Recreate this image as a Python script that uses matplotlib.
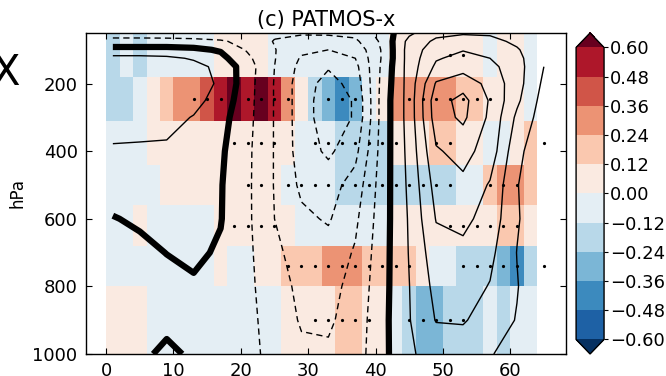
import numpy as np
import matplotlib
matplotlib.use("Agg")
import matplotlib.pyplot as plt
from matplotlib.colors import BoundaryNorm

plt.rcParams["font.family"] = ["DejaVu Sans"]
plt.rcParams["lines.dashed_pattern"] = [4.5, 3.0]

# --- shaded anomaly field: 33 latitude bins (2 deg wide) x 7 pressure layers ---
lat_edges = np.arange(0, 68, 2)
p_edges = [50, 180, 310, 440, 560, 680, 800, 1000]
nan = np.nan
anom_115 = [-0.18, -0.06, -0.18, -0.06, -0.06, -0.06, -0.06, -0.06, 0.06, 0.06, 0.06,
            0.06, -0.06, -0.06, -0.06, -0.06, -0.06, -0.06, -0.06, -0.06, -0.06, 0.06,
            0.06, 0.06, 0.06, 0.06, 0.06, 0.06, -0.06, 0.06, 0.06, -0.06, nan]
anom_245 = [-0.18, -0.18, -0.06, 0.06, 0.18, 0.30, 0.30, 0.42, 0.54, 0.66, 0.54,
            0.66, 0.54, 0.30, 0.06, -0.18, -0.30, -0.42, -0.30, -0.06, 0.06, 0.30,
            0.30, 0.30, 0.30, 0.30, 0.18, 0.18, 0.06, 0.06, 0.06, -0.06, nan]
anom_375 = [-0.06, -0.06, -0.06, 0.06, 0.06, 0.06, 0.06, 0.06, 0.06, 0.06, 0.06,
            0.06, 0.06, 0.06, -0.06, -0.06, -0.06, -0.18, -0.18, -0.18, -0.18, 0.06,
            0.06, 0.06, 0.18, 0.18, 0.06, 0.06, -0.06, -0.06, 0.06, 0.18, nan]
anom_500 = [-0.06, -0.06, -0.06, -0.06, 0.06, 0.06, 0.06, 0.06, 0.06, 0.06, 0.06,
            0.06, 0.06, -0.06, -0.06, -0.06, -0.06, -0.18, -0.18, -0.18, -0.18, -0.18,
            -0.18, -0.18, -0.18, -0.18, -0.06, -0.06, 0.18, 0.30, 0.30, 0.18, nan]
anom_620 = [-0.06, -0.06, 0.06, -0.06, -0.06, -0.06, -0.06, -0.06, 0.06, 0.06, 0.06,
            0.06, 0.06, 0.06, -0.06, -0.06, -0.06, -0.06, -0.06, -0.06, -0.06, 0.06,
            0.06, 0.06, 0.06, 0.06, 0.06, 0.06, 0.06, 0.18, 0.18, 0.06, nan]
anom_740 = [-0.06, -0.06, -0.06, -0.06, -0.06, -0.06, -0.06, -0.06, 0.06, -0.06, -0.06,
            0.06, 0.06, 0.18, 0.18, 0.18, 0.30, 0.30, 0.30, 0.18, 0.18, 0.18,
            0.18, 0.06, -0.06, -0.06, -0.18, -0.18, -0.18, -0.30, -0.42, -0.18, nan]
anom_900 = [0.06, 0.06, 0.06, -0.06, -0.06, -0.06, -0.06, -0.06, -0.06, -0.06, -0.06,
            -0.06, -0.06, 0.06, 0.06, 0.06, 0.06, 0.18, 0.18, 0.06, 0.06, -0.06,
            -0.18, -0.30, -0.30, -0.18, -0.18, -0.18, -0.06, -0.18, -0.06, -0.06, nan]
anom = np.array([anom_115, anom_245, anom_375, anom_500, anom_620, anom_740, anom_900])

# --- stippled (significant) cells: latitude centres per pressure layer ---
sig_p = [115, 245, 375, 500, 620, 740, 900]
sig_lat = [
    [51, 53],
    [13, 15, 17, 21, 23, 25, 27, 33, 35, 37, 45, 47, 49, 51, 53, 55, 57],
    [19, 21, 23, 25, 31, 33, 35, 37, 39, 41, 43, 49, 51, 65],
    [21, 23, 27, 29, 31, 33, 35, 37, 39, 41, 43, 45, 47, 49, 51, 57, 59, 61],
    [19, 21, 23, 25, 51, 53, 55, 57, 59, 61],
    [27, 29, 31, 33, 35, 37, 39, 41, 43, 45, 53, 55, 57, 59, 61, 65],
    [31, 33, 35, 37, 39, 45, 47, 49, 51, 53],
]

# --- climatological circulation (contoured) ---
circ_lat = np.arange(1, 66, 4)
circ_p = [50, 75, 100, 125, 150, 200, 250, 300, 400, 500, 600, 700, 800, 900, 1000]
circ = np.array([
    [-1.6, -1.6, -1.65, -1.75, -1.85, -1.9, -1.85, -1.9, -1.85, -1.7, -0.6, 0.8, 1.7, 1.9, 1.85, 1.5, 1.2],
    [-0.6, -0.6, -0.6, -0.65, -0.85, -1.4, -2.05, -2.3, -2.4, -2.2, -0.8, 1.3, 2.2, 2.4, 2.3, 1.8, 1.3],
    [0.3, 0.3, 0.3, 0.2, -0.1, -1.1, -1.95, -2.8, -3.0, -2.7, -0.9, 1.4, 2.6, 2.95, 2.7, 2.1, 1.2],
    [1.3, 1.3, 1.2, 0.9, 0.3, -0.8, -1.95, -3.1, -3.5, -3.0, -0.9, 1.4, 2.9, 3.3, 3.0, 2.3, 1.1],
    [1.5, 1.6, 1.5, 1.3, 0.75, -0.55, -2.0, -3.3, -3.9, -3.3, -0.8, 1.4, 3.2, 3.6, 3.3, 2.4, 1.0],
    [1.6, 1.7, 1.65, 1.45, 0.85, -0.6, -2.05, -3.5, -4.4, -3.6, -0.7, 1.4, 4.1, 4.6, 3.7, 2.4, 0.8],
    [1.5, 1.6, 1.55, 1.3, 0.6, -0.65, -2.05, -3.5, -4.6, -3.9, -0.6, 1.4, 4.6, 5.3, 3.9, 2.2, 0.6],
    [1.35, 1.4, 1.3, 0.95, 0.35, -0.7, -2.05, -3.5, -4.6, -3.9, -0.6, 1.4, 4.5, 5.2, 3.8, 1.8, 0.5],
    [0.9, 0.85, 0.85, 0.7, 0.15, -0.8, -2.05, -3.45, -4.2, -3.3, -0.55, 1.3, 3.9, 4.3, 3.6, 1.25, 0.3],
    [0.5, 0.55, 0.6, 0.5, 0.06, -0.82, -2.05, -3.2, -3.4, -2.6, -0.5, 1.2, 3.4, 3.8, 2.9, 1.05, 0.2],
    [-0.05, 0.15, 0.3, 0.35, 0.04, -0.82, -2.0, -2.8, -3.1, -2.2, -0.45, 1.1, 3.05, 3.25, 2.6, 1.1, 0.2],
    [-0.4, -0.25, 0.02, 0.15, -0.1, -0.8, -1.75, -2.5, -2.6, -1.9, -0.4, 1.05, 2.6, 2.75, 2.25, 0.98, 0.2],
    [-0.6, -0.5, -0.35, -0.1, -0.3, -0.78, -1.55, -2.25, -2.3, -1.7, -0.35, 0.98, 2.3, 2.4, 1.95, 1.05, 0.2],
    [-0.5, -0.4, -0.25, -0.4, -0.55, -0.75, -1.4, -2.1, -2.15, -1.55, -0.3, 0.95, 2.05, 2.1, 1.5, 0.95, 0.2],
    [-0.3, -0.2, 0.2, -0.15, -0.6, -0.72, -1.3, -1.8, -1.85, -1.45, -0.3, 0.9, 1.3, 1.35, 1.05, 0.7, 0.2],
])

levels = np.round(np.arange(-0.6, 0.61, 0.12), 2)

fig = plt.figure(figsize=(6.66, 3.76), dpi=100)
ax = fig.add_axes([0.129, 0.0585, 0.721, 0.854])

cmap = plt.get_cmap("RdBu_r")
norm = BoundaryNorm(levels, cmap.N, extend="both")
mesh = ax.pcolormesh(lat_edges, p_edges, np.ma.masked_invalid(anom),
                     cmap=cmap, norm=norm, zorder=1)

for p, lats in zip(sig_p, sig_lat):
    ax.plot(lats, [p] * len(lats), "o", color="k", ms=2.3, mew=0, zorder=2)

ax.contour(circ_lat, circ_p, circ, levels=[-5, -4, -3, -2, -1], colors="k",
           linewidths=1.0, linestyles="dashed", zorder=3)
ax.contour(circ_lat, circ_p, circ, levels=[1, 2, 3, 4, 5], colors="k",
           linewidths=1.0, linestyles="solid", zorder=3)
ax.contour(circ_lat, circ_p, circ, levels=[0], colors="k",
           linewidths=4.5, linestyles="solid", zorder=3)

ax.set_xlim(-3, 68.3)
ax.set_ylim(1000, 50)
ax.set_xticks(np.arange(0, 61, 10))
ax.set_yticks([200, 400, 600, 800, 1000])
ax.tick_params(direction="in", top=True, right=True, length=4.5, width=0.8,
               labelsize=13, pad=6)
for s in ax.spines.values():
    s.set_linewidth(1.0)
ax.set_title("(c) PATMOS-x", fontsize=15, pad=5)
ax.set_ylabel("hPa", fontsize=12)
ax.yaxis.set_label_coords(-0.124, 0.5)

cax = fig.add_axes([0.865, 0.0585, 0.042, 0.854])
cb = fig.colorbar(mesh, cax=cax, extend="both", ticks=levels)
cb.ax.set_yticklabels(["%.2f" % v if v >= 0 else "\u2212%.2f" % -v for v in levels])
cb.ax.tick_params(labelsize=13, length=3, width=0.8, direction="out", pad=1.5)
cb.outline.set_linewidth(1.0)

fig.text(-0.012, 0.806, "X", fontsize=30, va="center", ha="left")

fig.savefig("out.png", dpi=100)
